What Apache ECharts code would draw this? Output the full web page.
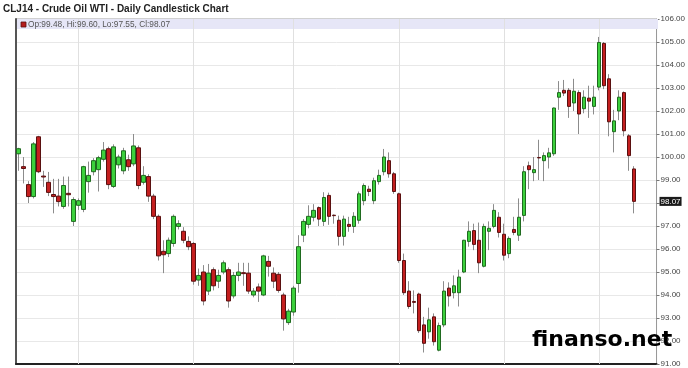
<!DOCTYPE html>
<html><head><meta charset="utf-8">
<script src="https://cdn.jsdelivr.net/npm/echarts@6/dist/echarts.min.js"></script>
<style>html,body{margin:0;padding:0;background:#fff}#c{width:688px;height:368px}</style>
</head><body><div id="c"></div>
<script>
const titleText = 'CLJ14 - Crude Oil WTI - Daily Candlestick Chart';
const lastQuote = { op: 99.48, hi: 99.60, lo: 97.55, cl: 98.07 };

const opens = [100.14,99.58,98.80,98.28,100.88,99.17,98.90,98.37,98.30,97.85,98.42,97.20,97.90,97.72,98.93,99.36,99.45,99.90,100.36,98.72,
99.66,99.40,99.88,99.70,100.40,98.90,99.15,98.30,97.42,95.90,95.80,96.24,96.98,96.77,96.33,96.24,94.65,95.00,94.17,95.10,
94.60,95.00,95.10,93.96,94.85,94.97,94.95,94.00,94.35,94.00,95.46,94.95,94.90,94.00,92.80,93.26,94.50,96.60,97.07,97.38,
97.80,97.20,98.33,97.47,97.25,96.55,97.07,96.98,97.25,98.10,98.60,98.10,98.93,99.36,99.84,99.27,98.40,95.50,94.17,93.72,
94.04,92.70,92.40,93.05,91.60,92.70,94.30,94.10,94.10,95.00,96.33,96.80,96.38,95.25,96.77,96.98,97.38,96.64,95.80,96.85,
96.60,97.46,99.62,99.32,99.98,99.84,100.00,100.14,102.60,102.90,102.90,102.35,102.80,102.10,102.56,102.20,103.04,104.94,103.40,101.10,
102.00,102.80,100.92,99.48];
const highs = [100.40,100.00,98.95,100.65,100.92,99.40,99.35,99.05,99.05,99.15,99.15,98.25,98.20,99.62,99.80,99.95,100.05,100.65,100.45,100.55,
100.10,100.40,100.10,101.00,100.50,99.60,99.25,98.40,97.50,96.38,96.50,97.50,97.25,96.95,96.55,96.30,95.15,95.30,95.35,95.20,
95.10,95.50,95.20,95.00,95.40,95.40,95.40,94.30,94.50,95.75,95.70,95.20,95.00,94.10,93.40,94.40,96.60,97.30,97.90,97.95,
97.85,98.47,98.45,97.50,97.45,97.45,97.40,97.60,98.50,98.85,98.75,99.10,99.45,100.35,100.20,99.35,98.45,95.80,94.60,94.20,
94.10,93.05,93.45,93.20,92.80,94.60,94.55,94.85,95.10,96.40,97.20,97.10,97.15,97.10,97.20,97.95,97.60,97.10,96.55,97.40,
98.20,99.60,99.80,100.00,100.75,100.20,100.40,102.15,103.30,103.35,103.00,103.40,102.90,102.90,103.10,103.10,105.22,105.00,103.60,102.05,
102.90,102.85,101.00,99.60];
const lows = [99.40,98.85,98.00,98.20,99.30,98.70,98.30,97.55,97.85,97.75,97.85,97.00,97.70,97.60,98.45,99.20,98.50,99.80,98.60,98.65,
99.50,99.25,99.40,99.60,98.60,98.80,98.05,97.30,95.50,94.95,95.65,96.10,96.85,96.25,95.95,94.45,94.40,93.55,94.00,94.20,
94.30,94.90,93.45,93.85,94.60,94.40,94.05,93.90,93.70,93.95,94.80,94.30,94.10,92.45,92.70,93.10,94.10,96.30,96.90,97.20,
97.00,97.00,97.05,97.10,96.15,96.15,96.75,96.70,97.10,97.90,98.30,97.95,98.80,99.20,99.10,98.40,95.40,94.00,93.40,93.20,
92.35,91.50,92.10,91.80,91.55,92.60,93.50,93.85,93.50,94.95,96.10,95.95,94.95,95.20,95.95,96.90,96.50,95.50,95.60,96.60,
96.35,97.20,98.60,98.95,99.00,98.95,99.50,100.05,102.05,102.65,101.70,102.00,101.00,101.90,101.70,101.85,102.90,102.95,100.90,100.20,
101.60,100.90,99.40,97.55];
const closes = [100.36,99.50,98.28,100.57,99.36,99.13,98.46,98.28,98.06,98.76,98.36,98.15,98.10,99.58,99.20,99.84,99.97,100.30,98.80,100.44,
100.00,100.27,99.58,100.48,98.76,99.20,98.30,97.42,95.70,95.75,96.38,97.42,97.10,96.38,96.10,94.60,94.85,93.74,94.95,94.40,
94.85,95.40,93.74,94.85,95.00,94.93,94.17,94.17,94.17,95.70,95.25,94.60,94.20,92.96,93.30,94.30,96.10,97.20,97.42,97.68,
97.30,98.24,97.42,97.45,96.55,97.30,96.98,97.42,98.40,98.76,98.50,98.97,99.20,100.00,99.27,98.50,95.50,94.10,93.50,93.68,
92.45,91.90,92.92,91.97,92.67,94.17,93.96,94.40,94.78,96.38,96.77,96.20,95.40,96.98,96.90,97.68,96.72,95.73,96.46,96.72,
97.38,99.36,99.45,99.45,99.96,100.06,100.18,102.13,102.80,102.78,102.20,102.86,101.87,102.60,102.43,102.60,104.98,103.10,101.53,101.57,
102.60,101.14,100.06,98.07];

// indices (0-based) of the first trading day of each month: vertical grid lines
const monthStartIdx = [12, 35, 55, 76, 97, 116];
const emptySlotsRight = 4;
const yMin = 91, yMax = 106, yStep = 1;

const categories = opens.map((_, i) => 'D' + (i + 1));
for (let k = 1; k <= emptySlotsRight; k++) categories.push('E' + k);

const wickData = opens.map((o, i) => [o, closes[i], lows[i], highs[i]]);
const bodyData = opens.map((o, i) => [o, closes[i], Math.min(o, closes[i]), Math.max(o, closes[i])]);

const chart = echarts.init(document.getElementById('c'), null, { renderer: 'canvas' });
const gridL = 16, gridR = 30, gridT = 19, gridB = 2;

chart.setOption({
  animation: false,
  backgroundColor: '#fff',
  grid: { left: gridL, right: gridR, top: gridT, bottom: gridB, show: true, borderColor: '#a0a0a0', borderWidth: 1, backgroundColor: '#fff' },
  xAxis: {
    type: 'category', data: categories, boundaryGap: true,
    axisLine: { show: true, lineStyle: { color: '#222', width: 2 } },
    axisTick: { show: false }, axisLabel: { show: false }, splitLine: { show: false }
  },
  yAxis: [{
    type: 'value', position: 'right', min: yMin, max: yMax, interval: yStep,
    axisLine: { show: true, lineStyle: { color: '#999', width: 1 } },
    axisTick: { show: true, length: 3, lineStyle: { color: '#777' } },
    axisLabel: { fontSize: 8, color: '#444', margin: 4, fontFamily: 'Liberation Sans',
      formatter: v => (Math.abs(v - Math.round(lastQuote.cl)) < 1e-9 ? '' : v.toFixed(2)) },
    splitLine: { show: true, lineStyle: { color: '#e8e8e8', width: 1 } }
  }, {
    type: 'value', position: 'left', min: yMin, max: yMax, interval: yStep,
    axisLine: { show: true, lineStyle: { color: '#555', width: 2 } },
    axisTick: { show: false }, axisLabel: { show: false }, splitLine: { show: false }
  }],
  series: [{
    type: 'candlestick', name: 'wick', data: wickData, barWidth: 1, z: 2,
    itemStyle: { color: '#8c8c8c', color0: '#8c8c8c', borderColor: '#8c8c8c', borderColor0: '#8c8c8c', borderWidth: 1 },
    markLine: {
      silent: true, symbol: 'none', label: { show: false }, z: 1,
      lineStyle: { color: '#e0e0e0', type: 'solid', width: 1 },
      data: monthStartIdx.map(i => ({ xAxis: categories[i] }))
    }
  }, {
    type: 'candlestick', name: 'body', data: bodyData, barWidth: 4, z: 3,
    itemStyle: { color: '#3cd03c', color0: '#c41f1f', borderColor: '#1f6a1f', borderColor0: '#5a1010', borderWidth: 1 },
    markLine: {
      silent: true, symbol: 'none', z: 10,
      lineStyle: { color: 'rgba(0,0,0,0)', width: 1, type: 'solid' },
      label: { show: true, position: 'end', distance: 3, formatter: lastQuote.cl.toFixed(2),
        backgroundColor: '#1a1a1a', color: '#fff', fontSize: 8, fontFamily: 'Liberation Sans', padding: [1, 1, 0, 1] },
      data: [{ yAxis: lastQuote.cl }]
    }
  }],
  graphic: [
    { type: 'rect', z: 1, shape: { x: gridL + 1, y: gridT, width: 688 - gridL - gridR - 1, height: 10 }, style: { fill: '#e6e6f7' } },
    { type: 'rect', z: 5, shape: { x: 21, y: 22, width: 5, height: 5 }, style: { fill: '#b51c1c', stroke: '#5a1010', lineWidth: 0.8 } },
    { type: 'text', z: 5, x: 28, y: 24.5, style: { text: 'Op:' + lastQuote.op.toFixed(2) + ', Hi:' + lastQuote.hi.toFixed(2) + ', Lo:' + lastQuote.lo.toFixed(2) + ', Cl:' + lastQuote.cl.toFixed(2),
      font: '8.3px "Liberation Sans"', fill: '#555', verticalAlign: 'middle' } },
    { type: 'text', z: 5, x: 3, y: 9.5, style: { text: titleText, font: 'bold 10px "Liberation Sans"', fill: '#222', verticalAlign: 'middle' } },
    { type: 'text', z: 10, x: 532, y: 340, style: { text: 'finanso.net', font: 'bold 22px "DejaVu Sans"', fill: '#000', verticalAlign: 'middle' } }
  ]
});
</script></body></html>
